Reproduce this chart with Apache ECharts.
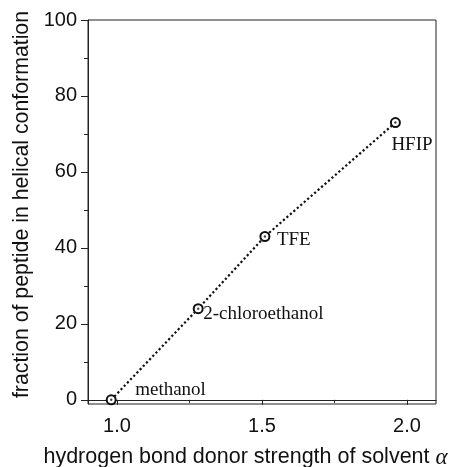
<!DOCTYPE html>
<html>
<head>
<meta charset="utf-8">
<script src="https://cdn.jsdelivr.net/npm/echarts@6/dist/echarts.min.js"></script>
<style>html,body{margin:0;padding:0;background:#fff;}#c{width:451px;height:467px;}</style>
</head>
<body>
<div id="c"></div>
<script>
const solvents = ['methanol', '2-chloroethanol', 'TFE', 'HFIP'];
const alphaValues = [0.98, 1.28, 1.51, 1.96];
const helixFraction = [0, 24, 43, 73];
const xMajorTicks = [1.0, 1.5, 2.0];
const xMinorTicks = [1.25, 1.75];
const yMajorTicks = [0, 20, 40, 60, 80, 100];
const yMinorTicks = [10, 30, 50, 70, 90];

// label placement (style only)
const labelOffsets = [[24, -10], [5, 5], [12, 4], [-4, 22]];

const sans = 'Liberation Sans';
const serif = 'Liberation Serif';
const X_MIN = 0.9, X_MAX = 2.1, Y_MIN = -1.1, Y_MAX = 100;

const chart = echarts.init(document.getElementById('c'), null, {renderer: 'canvas'});
const pts = alphaValues.map((a, i) => ({
  value: [a, helixFraction[i]],
  label: {
    show: true, formatter: solvents[i], position: 'inside', align: 'left', verticalAlign: 'middle',
    offset: labelOffsets[i], fontFamily: serif, fontSize: 19, color: '#111'
  }
}));

chart.setOption({
  animation: false,
  backgroundColor: '#fff',
  grid: {left: 88, right: 15, top: 20, bottom: 63, outerBoundsMode: 'none', containLabel: false,
    show: true, borderColor: '#222', borderWidth: 1, backgroundColor: 'transparent'},
  xAxis: [{
    type: 'value', position: 'bottom', min: X_MIN, max: X_MAX,
    axisLine: {show: true, lineStyle: {color: '#222', width: 1}},
    axisTick: {show: true, customValues: xMajorTicks, length: 5, inside: false, lineStyle: {color: '#222'}},
    axisLabel: {customValues: xMajorTicks, margin: 12, fontFamily: sans, fontSize: 20, color: '#111', formatter: v => v.toFixed(1)},
    splitLine: {show: false},
    name: 'hydrogen bond donor strength of solvent {a|α}',
    nameLocation: 'middle', nameGap: 42,
    nameTextStyle: {fontFamily: sans, fontSize: 21.5, color: '#111', padding: [0, 33, 0, 0],
      rich: {a: {fontFamily: serif, fontStyle: 'italic', fontSize: 23, color: '#111'}}}
  }, {
    type: 'value', position: 'bottom', min: X_MIN, max: X_MAX,
    axisLine: {show: false},
    axisTick: {show: true, customValues: xMinorTicks, length: 3, lineStyle: {color: '#222'}},
    axisLabel: {show: false}, splitLine: {show: false}
  }],
  yAxis: [{
    type: 'value', position: 'left', min: Y_MIN, max: Y_MAX,
    axisLine: {show: true, lineStyle: {color: '#222', width: 1}},
    axisTick: {show: true, customValues: yMajorTicks, length: 7, lineStyle: {color: '#222'}},
    axisLabel: {customValues: yMajorTicks, margin: 11, fontFamily: sans, fontSize: 20, color: '#111'},
    splitLine: {show: false},
    name: 'fraction of peptide in helical conformation',
    nameLocation: 'middle', nameGap: 55, nameRotate: 90,
    nameTextStyle: {fontFamily: sans, fontSize: 21.3, color: '#111', padding: [0, 0, 0, 15]}
  }, {
    type: 'value', position: 'left', min: Y_MIN, max: Y_MAX,
    axisLine: {show: false},
    axisTick: {show: true, customValues: yMinorTicks, length: 4, lineStyle: {color: '#222'}},
    axisLabel: {show: false}, splitLine: {show: false}
  }],
  series: [{
    type: 'line', xAxisIndex: 0, yAxisIndex: 0,
    data: pts,
    symbol: 'emptyCircle', symbolSize: 9, showSymbol: true,
    itemStyle: {color: '#111', borderColor: '#111', borderWidth: 1.3},
    lineStyle: {color: '#111', width: 2.2, type: [2.2, 2.4]},
    z: 3
  }, {
    type: 'scatter', xAxisIndex: 0, yAxisIndex: 0,
    data: alphaValues.map((a, i) => [a, helixFraction[i]]),
    symbol: 'circle', symbolSize: 2.4, itemStyle: {color: '#111'}, z: 5, silent: true
  }]
});
</script>
</body>
</html>
